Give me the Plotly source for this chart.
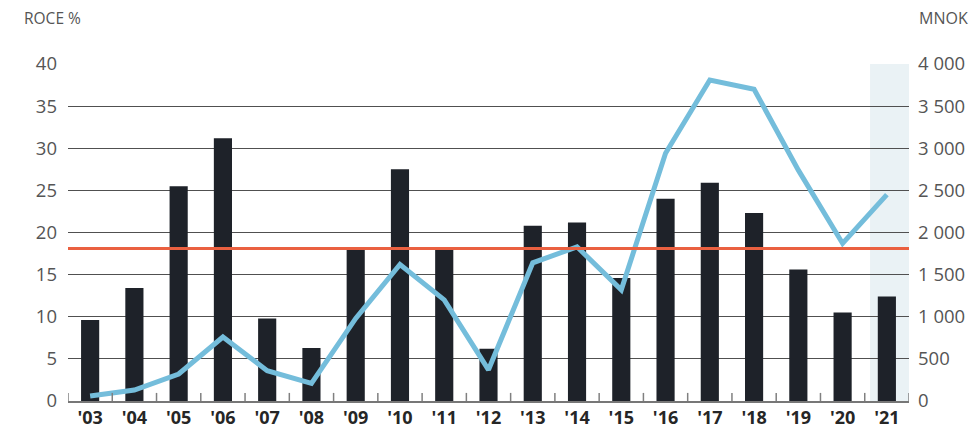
import plotly.graph_objects as go

# Years on the category axis
years = ["'03", "'04", "'05", "'06", "'07", "'08", "'09", "'10", "'11", "'12",
         "'13", "'14", "'15", "'16", "'17", "'18", "'19", "'20", "'21"]

# Return on capital employed, % (bars, left axis)
roce_pct = [9.6, 13.4, 25.5, 31.2, 9.8, 6.3, 18.2, 27.5, 18.0, 6.2,
            20.8, 21.2, 14.6, 24.0, 25.9, 22.3, 15.6, 10.5, 12.4]

# Result in MNOK (line, right axis)
mnok = [60, 130, 320, 760, 360, 210, 980, 1620, 1200, 370,
        1640, 1830, 1320, 2940, 3810, 3700, 2740, 1870, 2450]

# Average ROCE reference level, %
avg_roce = 18.1

left_ticks = [0, 5, 10, 15, 20, 25, 30, 35, 40]
right_ticks = [0, 500, 1000, 1500, 2000, 2500, 3000, 3500, 4000]

BAR = "#1e2229"
LINE = "#74bddb"
AVG = "#ea6040"
GRID = "#505050"
TXT = "#555555"
FONT = "Open Sans"

n = len(years)

fig = go.Figure()

fig.add_trace(go.Bar(
    x=years, y=roce_pct, marker=dict(color=BAR, line=dict(width=0)),
    width=0.41, yaxis="y", showlegend=False,
))

fig.add_trace(go.Scatter(
    x=years, y=mnok, mode="lines", yaxis="y2",
    line=dict(color=LINE, width=5), showlegend=False,
))

# highlighted latest year
fig.add_shape(type="rect", xref="x", yref="paper",
              x0=17.62, x1=18.5, y0=0, y1=1,
              fillcolor="#eaf2f5", line=dict(width=0), layer="below")

# small upward tick marks on the boundaries between year slots
for i in range(n + 1):
    fig.add_shape(type="line", xref="x", yref="paper",
                  x0=i - 0.5, x1=i - 0.5, y0=0, y1=0.024,
                  line=dict(color="#808080", width=1.5), layer="above")

# average ROCE line
fig.add_shape(type="line", xref="paper", yref="y",
              x0=0, x1=1, y0=avg_roce, y1=avg_roce,
              line=dict(color=AVG, width=3), layer="above")

fig.update_layout(
    width=980, height=436,
    margin=dict(l=68, r=71, t=64, b=35, autoexpand=False),
    paper_bgcolor="white", plot_bgcolor="rgba(0,0,0,0)",
    separators=". ",
    bargap=0.5,
    font=dict(family=FONT, color=TXT),
    xaxis=dict(
        type="category", range=[-0.5, n - 0.5], automargin=False,
        showline=True, linecolor="#777777", linewidth=1.5,
        ticks="", showgrid=False,
        tickfont=dict(family=FONT, size=18, color="#262626", weight="bold"),
    ),
    yaxis=dict(
        range=[0, 40], tickvals=left_ticks, showgrid=True, automargin=False,
        gridcolor=GRID, gridwidth=1, zeroline=False,
        tickfont=dict(size=18.5, color=TXT), ticks="", ticklabelstandoff=10,
    ),
    yaxis2=dict(
        range=[0, 4000], tickvals=right_ticks, overlaying="y", side="right",
        showgrid=False, zeroline=False, tickformat=",d", automargin=False,
        tickfont=dict(size=18.5, color=TXT), ticks="", ticklabelstandoff=8,
    ),
    annotations=[
        dict(text="ROCE %", xref="paper", yref="paper", x=-0.055, y=1.0,
             yshift=46, xanchor="left", yanchor="middle", showarrow=False,
             font=dict(size=15.5, color=TXT)),
        dict(text="MNOK", xref="paper", yref="paper", x=1.0, y=1.0,
             xshift=8, yshift=46, xanchor="left", yanchor="middle",
             showarrow=False, font=dict(size=16, color=TXT)),
    ],
)

fig.write_html("out.html")
